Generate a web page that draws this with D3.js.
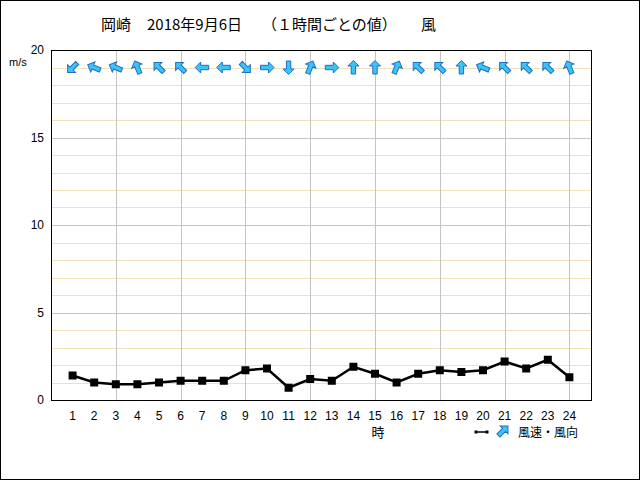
<!DOCTYPE html>
<html>
<head>
<meta charset="utf-8">
<script src="https://cdn.jsdelivr.net/npm/d3@7"></script>
<style>
  body { margin: 0; background: #fff; }
  svg text { font-family: "Liberation Sans", "Noto Sans CJK JP", sans-serif; }
</style>
</head>
<body>
<div id="chart"></div>
<script>
// 岡崎 2018-09-06 hourly wind
const hours = d3.range(1, 25);
const windSpeed = [1.4, 1.0, 0.9, 0.9, 1.0, 1.1, 1.1, 1.1, 1.7, 1.8, 0.7, 1.2,
                   1.1, 1.9, 1.5, 1.0, 1.5, 1.7, 1.6, 1.7, 2.2, 1.8, 2.3, 1.3];
const windDir = ['北東', '東南東', '東南東', '南南東', '南東', '南東', '東', '東',
                 '北西', '西', '北', '南南西', '西', '南', '南', '南南西',
                 '南東', '南東', '南', '東南東', '南東', '南東', '南東', '南南東'];
const compass = ['北', '北北東', '北東', '東北東', '東', '東南東', '南東', '南南東',
                 '南', '南南西', '南西', '西南西', '西', '西北西', '北西', '北北西'];
const yTicks = [0, 5, 10, 15, 20];

const width = 640, height = 480;
const svg = d3.select('#chart').append('svg')
	.attr('width', width)
	.attr('height', height);

// outer frame
svg.append('rect')
	.attr('x', 0.5).attr('y', 0.5)
	.attr('width', width - 1).attr('height', height - 1)
	.attr('fill', '#fff').attr('stroke', '#000');

const x = d3.scaleLinear().domain([0, 25]).range([51, 591]);
const y = d3.scaleLinear().domain([0, 20]).range([400, 50]);

const g = svg.append('g');

// minor horizontal grid (every 1 m/s)
g.selectAll('.hminor')
	.data(d3.range(1, 20).filter(v => v % 5 !== 0))
	.enter().append('line')
	.attr('x1', x(0)).attr('x2', x(25))
	.attr('y1', d => Math.round(y(d)) + 0.5)
	.attr('y2', d => Math.round(y(d)) + 0.5)
	.attr('stroke', '#efe2ba');

// major horizontal grid
g.selectAll('.hmajor')
	.data([5, 10, 15])
	.enter().append('line')
	.attr('x1', x(0)).attr('x2', x(25))
	.attr('y1', d => Math.round(y(d)) + 0.5)
	.attr('y2', d => Math.round(y(d)) + 0.5)
	.attr('stroke', '#c4c4c4');

// vertical grid every 3 hours
g.selectAll('.vgrid')
	.data(hours.filter(h => h % 3 === 0))
	.enter().append('line')
	.attr('x1', d => Math.round(x(d)) + 0.5)
	.attr('x2', d => Math.round(x(d)) + 0.5)
	.attr('y1', y(20)).attr('y2', y(0))
	.attr('stroke', '#c4c4c4');

// plot box
g.append('rect')
	.attr('x', x(0) + 0.5).attr('y', y(20) + 0.5)
	.attr('width', x(25) - x(0)).attr('height', y(0) - y(20))
	.attr('fill', 'none').attr('stroke', '#000');

// y tick labels
svg.selectAll('.ylab')
	.data(yTicks)
	.enter().append('text')
	.attr('x', 44)
	.attr('y', d => y(d))
	.attr('dy', '0.35em')
	.attr('text-anchor', 'end')
	.style('font-size', '12px')
	.text(d => d);

svg.append('text')
	.attr('x', 9).attr('y', 66)
	.style('font-size', '11px')
	.text('m/s');

// x tick labels
svg.selectAll('.xlab')
	.data(hours)
	.enter().append('text')
	.attr('x', d => x(d))
	.attr('y', 420)
	.attr('text-anchor', 'middle')
	.style('font-size', '12px')
	.text(d => d);

svg.append('text')
	.attr('x', 378).attr('y', 437)
	.attr('text-anchor', 'middle')
	.style('font-size', '13px')
	.style('font-family', '"Noto Sans CJK JP"')
	.text('時');

// title
const titleParts = [
	{ t: '岡崎', x: 101 },
	{ t: '2018年9月6日', x: 147 },
	{ t: '（１時間ごとの値）', x: 262 },
	{ t: '風', x: 421 }
];
svg.selectAll('.title')
	.data(titleParts)
	.enter().append('text')
	.attr('x', d => d.x)
	.attr('y', 30)
	.style('font-size', '15px')
	.style('font-family', '"Noto Sans CJK JP"')
	.text(d => d.t);

// speed line
const line = d3.line()
	.x((d, i) => x(hours[i]))
	.y(d => y(d));

g.append('path')
	.attr('d', line(windSpeed))
	.attr('fill', 'none')
	.attr('stroke', '#000')
	.attr('stroke-width', 2.5);

g.selectAll('.pt')
	.data(windSpeed)
	.enter().append('rect')
	.attr('x', (d, i) => x(hours[i]) - 4)
	.attr('y', d => y(d) - 4)
	.attr('width', 8).attr('height', 8)
	.attr('fill', '#000');

// direction arrows (point where the wind blows to)
const arrowPath = 'M0,-7 L5.5,-1.5 L2.2,-1.5 L2.2,6.5 L-2.2,6.5 L-2.2,-1.5 L-5.5,-1.5 Z';
const arrowFill = '#3cc3f7';
const arrowStroke = '#1f6fc0';

g.selectAll('.arrow')
	.data(windDir)
	.enter().append('path')
	.attr('d', arrowPath)
	.attr('transform', (d, i) => {
		const deg = compass.indexOf(d) * 22.5 + 180;
		return `translate(${x(hours[i])},${y(19)}) rotate(${deg})`;
	})
	.attr('fill', arrowFill)
	.attr('stroke', arrowStroke)
	.attr('stroke-width', 1);

// legend
const lg = svg.append('g').attr('transform', 'translate(476,432)');
lg.append('line')
	.attr('x1', 0).attr('x2', 11)
	.attr('y1', 0).attr('y2', 0)
	.attr('stroke', '#000').attr('stroke-width', 1.5);
lg.selectAll('.ldot')
	.data([0, 11])
	.enter().append('rect')
	.attr('x', d => d - 1.5).attr('y', -1.5)
	.attr('width', 3).attr('height', 3)
	.attr('fill', '#000');
lg.append('path')
	.attr('d', arrowPath)
	.attr('transform', 'translate(27,-1) rotate(45)')
	.attr('fill', arrowFill)
	.attr('stroke', arrowStroke);
lg.append('text')
	.attr('x', 42).attr('y', 5)
	.style('font-size', '12px')
	.style('font-family', '"Noto Sans CJK JP"')
	.text('風速・風向');
</script>
</body>
</html>
